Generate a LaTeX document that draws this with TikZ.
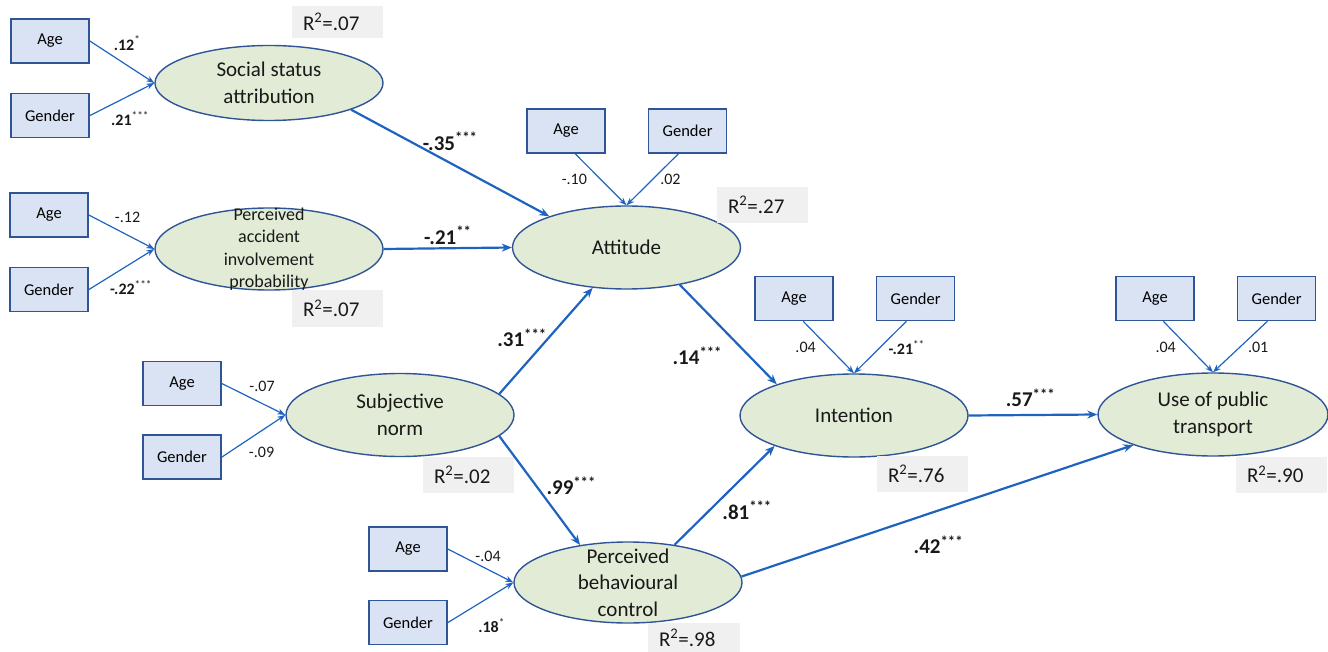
\documentclass[tikz,border=0pt]{standalone}
\usepackage{fontspec}
\setmainfont{Carlito}
\usepackage{xcolor}
\usepackage{tikz}
\usetikzlibrary{shapes.geometric, arrows.meta, positioning}

\definecolor{boxfill}{HTML}{DAE3F3}
\definecolor{edgeblue}{HTML}{2F5597}
\definecolor{ellfill}{HTML}{E2EBD5}
\definecolor{arrowblue}{HTML}{1F63C0}
\definecolor{rsqfill}{HTML}{F0F0F0}

\begin{document}
\begin{tikzpicture}[
		x=1pt, y=-1pt,
		% Defining node styles
		covbox/.style={
				rectangle,
				draw=edgeblue,
				line width=1.6pt,
				fill=boxfill,
				minimum width=78pt,
				minimum height=44pt,
				inner sep=0pt,
				font=\fontsize{16.5}{19}\selectfont
			},
		construct/.style={
				ellipse,
				draw=edgeblue,
				line width=1.4pt,
				fill=ellfill,
				minimum width=228pt,
				minimum height=83pt,
				inner sep=0pt
			},
		ctext/.style={
				align=center,
				inner sep=0pt,
				text=black!90,
				font=\fontsize{21}{26.5}\selectfont
			},
		rsqbox/.style={
				rectangle,
				fill=rsqfill,
				minimum width=91pt,
				minimum height=36pt,
				inner xsep=11pt,
				text width=69pt,
				align=left,
				text=black!90,
				font=\fontsize{21}{25}\selectfont
			},
		coef/.style={
				inner sep=0pt,
				text=black!90,
				font=\fontsize{16}{19}\selectfont
			},
		pathcoef/.style={
				inner sep=0pt,
				text=black!90,
				font=\fontsize{21}{25}\selectfont\bfseries
			},
		% Defining arrow styles
		thinarrow/.style={
				-{Stealth[length=8pt,width=6pt]},
				line width=1.2pt,
				draw=arrowblue
			},
		arrow/.style={
				-{Stealth[length=10pt,width=8pt]},
				line width=2.2pt,
				draw=arrowblue
			}
		]

		\useasboundingbox (0,0) rectangle (1328,652);

		% Constructs
		\node[construct, minimum height=75pt, label={[ctext]center:{Social status\\attribution}}] (ssa) at (269,83) {};
		\node[construct, minimum height=82pt, label={[ctext, font=\fontsize{18}{22.5}\selectfont]center:{Perceived\\accident\\involvement\\probability}}] (paip) at (269,249) {};
		\node[construct, label={[ctext]center:Attitude}] (att) at (626.5,247.5) {};
		\node[construct, label={[ctext]center:{Subjective\\norm}}] (sn) at (400,415) {};
		\node[construct, minimum height=81pt, label={[ctext]center:{Perceived\\behavioural\\control}}] (pbc) at (628,582.5) {};
		\node[construct, label={[ctext]center:Intention}] (int) at (854,415.5) {};
		\node[construct, minimum width=230pt, label={[ctext]center:{Use of public\\transport}}] (use) at (1213,414.5) {};

		% Explained variance
		\node[rsqbox, minimum height=32pt] (rsq_ssa) at (337.5,22) {R\textsuperscript{2}=.07};
		\node[rsqbox, minimum height=37pt] (rsq_paip) at (337.5,308.5) {R\textsuperscript{2}=.07};
		\node[rsqbox, text width=68pt] (rsq_att) at (762,205) {R\textsuperscript{2}=.27};
		\node[rsqbox] (rsq_sn) at (468.5,475) {R\textsuperscript{2}=.02};
		\node[rsqbox, text width=68pt] (rsq_int) at (922,474) {R\textsuperscript{2}=.76};
		\node[rsqbox] (rsq_use) at (1281.5,474.5) {R\textsuperscript{2}=.90};
		\node[rsqbox, text width=70pt, minimum height=30pt] (rsq_pbc) at (694,638) {R\textsuperscript{2}=.98};

		% Covariates
		\node[covbox] (age_ssa) at (50,41) {Age};
		\node[covbox, below=29pt of age_ssa] (gender_ssa) {Gender};
		\node[covbox] (age_paip) at (49,215) {Age};
		\node[covbox, below=29pt of age_paip] (gender_paip) {Gender};
		\node[covbox] (age_sn) at (182,383.5) {Age};
		\node[covbox, below=28pt of age_sn] (gender_sn) {Gender};
		\node[covbox] (age_pbc) at (408,549) {Age};
		\node[covbox, below=28pt of age_pbc] (gender_pbc) {Gender};
		\node[covbox] (age_att) at (566,131) {Age};
		\node[covbox, right=42pt of age_att] (gender_att) {Gender};
		\node[covbox] (age_int) at (794,298.5) {Age};
		\node[covbox, right=42pt of age_int] (gender_int) {Gender};
		\node[covbox] (age_use) at (1155,298.5) {Age};
		\node[covbox, right=42pt of age_use] (gender_use) {Gender};

		% Covariate arrows
		\draw[thinarrow] (age_ssa.east) -- (ssa.west)
			node[coef, pos=.5, xshift=5pt, yshift=19pt] {\textbf{.12}\textsuperscript{*}};
		\draw[thinarrow] (gender_ssa.east) -- (ssa.west)
			node[coef, pos=.5, xshift=8pt, yshift=-19pt] {\textbf{.21}\textsuperscript{***}};
		\draw[thinarrow] (age_paip.east) -- (paip.west)
			node[coef, pos=.5, xshift=6pt, yshift=15pt] {-.12};
		\draw[thinarrow] (gender_paip.east) -- (paip.west)
			node[coef, pos=.5, xshift=9.5pt, yshift=-18pt] {\textbf{-.22}\textsuperscript{***}};
		\draw[thinarrow] (age_sn.east) -- (sn.west)
			node[coef, pos=.5, xshift=8.5pt, yshift=13pt] {-.07};
		\draw[thinarrow] (gender_sn.east) -- (sn.west)
			node[coef, pos=.5, xshift=8pt, yshift=-16pt] {-.09};
		\draw[thinarrow] (age_pbc.east) -- (pbc.west)
			node[coef, pos=.5, xshift=7.5pt, yshift=9pt] {-.04};
		\draw[thinarrow] (gender_pbc.east) -- (pbc.west)
			node[coef, pos=.5, xshift=11pt, yshift=-23pt] {\textbf{.18}\textsuperscript{*}};
		\draw[thinarrow] (age_att.-68) -- (att.north)
			node[coef, pos=.5, xshift=-26.5pt] {-.10};
		\draw[thinarrow] (gender_att.-112) -- (att.north)
			node[coef, pos=.5, xshift=18pt] {.02};
		\draw[thinarrow] (age_int.-68) -- (int.north)
			node[coef, pos=.5, xshift=-23pt] {.04};
		\draw[thinarrow] (gender_int.-112) -- (int.north)
			node[coef, pos=.5, xshift=26.5pt] {\textbf{-.21}\textsuperscript{**}};
		\draw[thinarrow] (age_use.-70) -- (use.north)
			node[coef, pos=.5, xshift=-22.5pt, yshift=-1pt] {.04};
		\draw[thinarrow] (gender_use.-112) -- (use.north)
			node[coef, pos=.5, xshift=18pt, yshift=-1pt] {.01};

		% Structural paths
		\draw[arrow] (ssa.-18) -- (att.158)
			node[pathcoef, pos=.5, yshift=21.5pt] {-.35\textsuperscript{***}};
		\draw[arrow] (paip.east) -- (att.west)
			node[pathcoef, pos=.5, yshift=13pt] {-.21\textsuperscript{**}};
		\draw[arrow] (sn.12) -- (att.230)
			node[pathcoef, pos=.5, xshift=-24pt, yshift=3pt] {.31\textsuperscript{***}};
		\draw[arrow] (att.-35) -- (int.158)
			node[pathcoef, pos=.5, xshift=-31pt, yshift=-21pt] {.14\textsuperscript{***}};
		\draw[arrow] (sn.-12) -- (pbc.142)
			node[pathcoef, pos=.5, xshift=31.5pt, yshift=5pt] {.99\textsuperscript{***}};
		\draw[arrow] (pbc.39) -- (int.201)
			node[pathcoef, pos=.5, xshift=22.5pt, yshift=-15pt] {.81\textsuperscript{***}};
		\draw[arrow] (pbc.3) -- (use.201)
			node[pathcoef, pos=.5, xshift=1pt, yshift=-34pt] {.42\textsuperscript{***}};
		\draw[arrow] (int.east) -- (use.west)
			node[pathcoef, pos=.5, xshift=-2.5pt, yshift=17pt] {.57\textsuperscript{***}};

	\end{tikzpicture}
\end{document}
